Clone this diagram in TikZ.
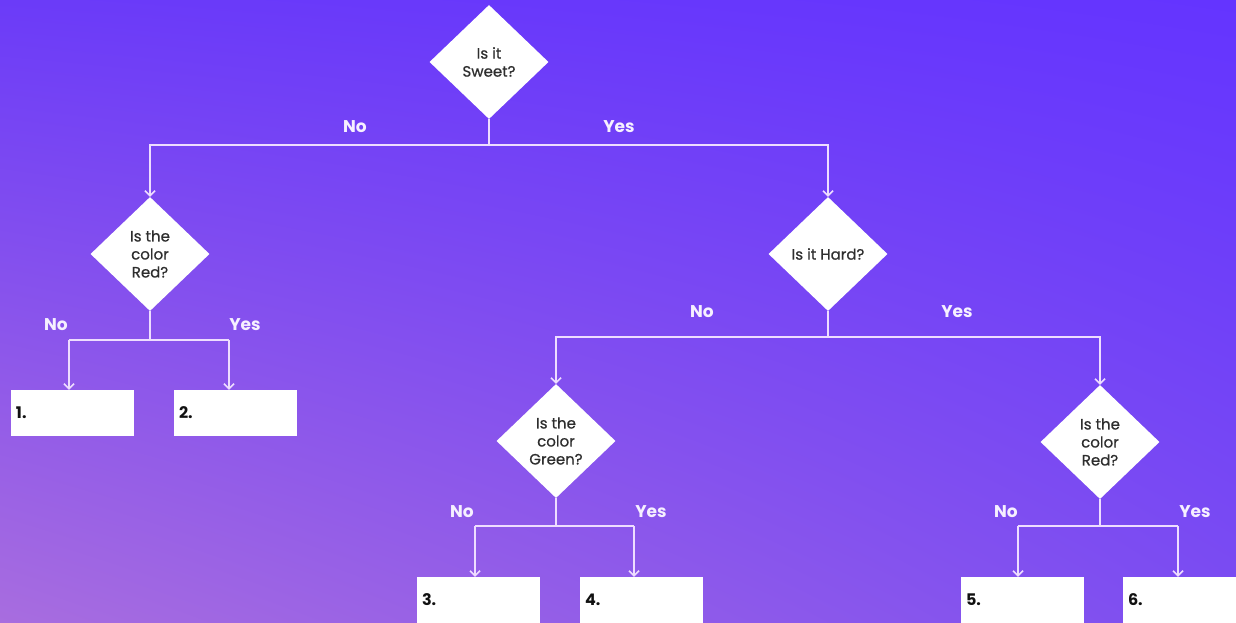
\documentclass[tikz,border=0pt]{standalone}
\usepackage{fontspec}
\setmainfont{Poppins}
\newfontfamily\qfont{Poppins}[FakeBold=0.6]
\usepackage{xcolor}
\usepackage{tikz}
\usetikzlibrary{arrows.meta,shapes.geometric,shadings}
\definecolor{bgtl}{HTML}{6B3BF8}
\definecolor{bgtr}{HTML}{6434FF}
\definecolor{bgbl}{HTML}{A86DDF}
\definecolor{bgbr}{HTML}{7C4DF1}
\definecolor{wire}{HTML}{EEDDFF}
\definecolor{lbl}{HTML}{F6F0FF}
\definecolor{qtext}{HTML}{2E2E2E}
\definecolor{ltext}{HTML}{111111}
\tikzset{
  query/.style={diamond,fill=white,inner sep=0pt,minimum width=119pt,minimum height=114pt,align=center,text=qtext,font=\qfont\fontsize{15}{18}\selectfont},
  leaf/.style={rectangle,fill=white,text width=113pt,inner xsep=5pt,minimum height=46pt,align=left,text=ltext,font=\fontsize{16}{18}\selectfont\bfseries},
  ans/.style={text=lbl,font=\fontsize{17}{20}\selectfont\bfseries},
  link/.style={draw=wire,line width=1.5pt},
  arr/.style={link,-{Straight Barb[length=5pt,width=10pt]}},
}
\begin{document}
\begin{tikzpicture}[x=1pt,y=-1pt]
  \useasboundingbox (0,0) rectangle (1236,623);
  \clip (0,0) rectangle (1236,623);
  \shade[upper left=bgtl,upper right=bgtr,lower left=bgbl,lower right=bgbr] (0,0) rectangle (1236,623);

  % questions
  \node[query] (sweet) at (489,62) {Is it\\Sweet?};
  \node[query] (red1) at (150,254) {Is the\\color\\Red?};
  \node[query] (hard) at (828,254) {Is it Hard?};
  \node[query] (green) at (556,441) {Is the\\color\\Green?};
  \node[query] (red2) at (1100,442) {Is the\\color\\Red?};

  % answers
  \node[leaf] (b1) at (72.5,413) {1.};
  \node[leaf] (b2) at (235.5,413) {2.};
  \node[leaf] (b3) at (478.5,600) {3.};
  \node[leaf] (b4) at (641.5,600) {4.};
  \node[leaf] (b5) at (1022.5,600) {5.};
  \node[leaf] (b6) at (1184.5,600) {6.};

  % branch labels
  \node[ans] (n0) at (355,127) {No};
  \node[ans] (y0) at (619,127) {Yes};
  \node[ans] (n1) at (56,325) {No};
  \node[ans] (y1) at (245,325) {Yes};
  \node[ans] (n2) at (702,312) {No};
  \node[ans] (y2) at (957,312) {Yes};
  \node[ans] (n3) at (462,512) {No};
  \node[ans] (y3) at (651,512) {Yes};
  \node[ans] (n4) at (1006,512) {No};
  \node[ans] (y4) at (1195,512) {Yes};

  % splits
  \coordinate (j0) at (489,145);
  \coordinate (j1) at (150,340);
  \coordinate (j1l) at (69,340);
  \coordinate (j1r) at (229,340);
  \coordinate (j2) at (828,337);
  \coordinate (j3) at (556,526);
  \coordinate (j3l) at (475,526);
  \coordinate (j3r) at (634,526);
  \coordinate (j4) at (1100,526);
  \coordinate (j4l) at (1018,526);
  \coordinate (j4r) at (1178,526);

  \draw[link] (sweet.south) -- (j0);
  \draw[arr] (j0) -| (red1.north);
  \draw[arr] (j0) -| (hard.north);

  \draw[link] (red1.south) -- (j1);
  \draw[link] (j1l) -- (j1r);
  \draw[arr] (j1l) -- (j1l |- b1.north);
  \draw[arr] (j1r) -- (j1r |- b2.north);

  \draw[link] (hard.south) -- (j2);
  \draw[arr] (j2) -| (green.north);
  \draw[arr] (j2) -| (red2.north);

  \draw[link] (green.south) -- (j3);
  \draw[link] (j3l) -- (j3r);
  \draw[arr] (j3l) -- (j3l |- b3.north);
  \draw[arr] (j3r) -- (j3r |- b4.north);

  \draw[link] (red2.south) -- (j4);
  \draw[link] (j4l) -- (j4r);
  \draw[arr] (j4l) -- (j4l |- b5.north);
  \draw[arr] (j4r) -- (j4r |- b6.north);
\end{tikzpicture}
\end{document}
